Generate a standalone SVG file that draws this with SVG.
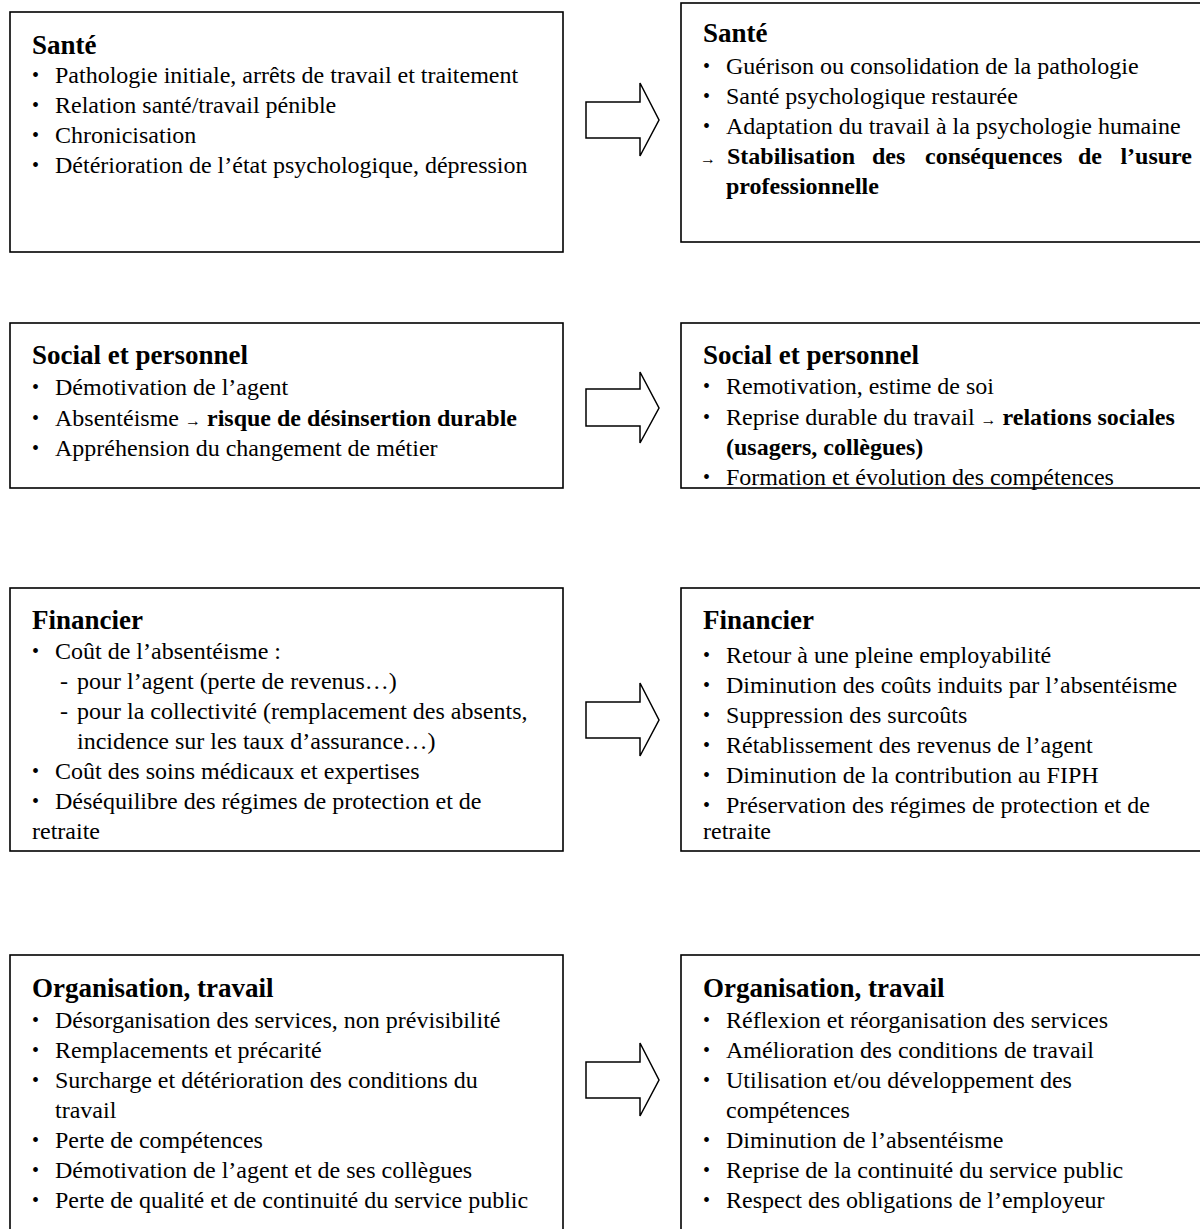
<svg xmlns="http://www.w3.org/2000/svg" width="1200" height="1229" viewBox="0 0 1200 1229">
<style>
.box{fill:#fff;stroke:#000;stroke-width:1.6}
.arr{fill:#fff;stroke:#000;stroke-width:1.5;stroke-linejoin:miter}
text{font-family:"Liberation Serif","Times New Roman",serif;fill:#000}
.h{font-size:27px;font-weight:bold}
.t{font-size:24px}
.b{font-weight:bold}
.bl{font-size:20px}
</style>
<rect width="1200" height="1229" fill="#fff"/>
<g id="connectors">
<path class="arr" d="M586,102 L640,102 L640,83 L659,120 L640,156 L640,138 L586,138 Z"/>
<path class="arr" d="M586,389 L640,389 L640,372 L659,408 L640,443 L640,426 L586,426 Z"/>
<path class="arr" d="M586,702 L640,702 L640,683 L659,720 L640,756 L640,738 L586,738 Z"/>
<path class="arr" d="M586,1062 L640,1062 L640,1043 L659,1080 L640,1116 L640,1098 L586,1098 Z"/>
</g>
<g id="sante-avant">
<rect class="box" x="10" y="12" width="553" height="240"/>
<text class="h" x="32" y="54">Santé</text>
<g class="t">
<text class="bl" x="32" y="82">•</text><text x="55" y="83">Pathologie initiale, arrêts de travail et traitement</text>
<text class="bl" x="32" y="112">•</text><text x="55" y="113">Relation santé/travail pénible</text>
<text class="bl" x="32" y="142">•</text><text x="55" y="143">Chronicisation</text>
<text class="bl" x="32" y="172">•</text><text x="55" y="173">Détérioration de l’état psychologique, dépression</text>
</g>
</g>
<g id="sante-apres">
<rect class="box" x="681" y="3" width="530" height="239"/>
<text class="h" x="703" y="42">Santé</text>
<g class="t">
<text class="bl" x="703" y="73">•</text><text x="726" y="74">Guérison ou consolidation de la pathologie</text>
<text class="bl" x="703" y="103">•</text><text x="726" y="104">Santé psychologique restaurée</text>
<text class="bl" x="703" y="133">•</text><text x="726" y="134">Adaptation du travail à la psychologie humaine</text>
<text font-size="16" x="700" y="164">→</text>
<text class="b" x="727" y="164">Stabilisation</text>
<text class="b" x="872" y="164">des</text>
<text class="b" x="925" y="164">conséquences</text>
<text class="b" x="1078" y="164">de</text>
<text class="b" x="1192" y="164" text-anchor="end">l’usure</text>
<text class="b" x="726" y="194">professionnelle</text>
</g>
</g>
<g id="social-avant">
<rect class="box" x="10" y="323" width="553" height="165"/>
<text class="h" x="32" y="364">Social et personnel</text>
<g class="t">
<text class="bl" x="32" y="394">•</text><text x="55" y="395">Démotivation de l’agent</text>
<text class="bl" x="32" y="425">•</text><text x="55" y="426">Absentéisme <tspan font-size="16">→</tspan> <tspan class="b">risque de désinsertion durable</tspan></text>
<text class="bl" x="32" y="455">•</text><text x="55" y="456">Appréhension du changement de métier</text>
</g>
</g>
<g id="social-apres">
<rect class="box" x="681" y="323" width="530" height="165"/>
<text class="h" x="703" y="364">Social et personnel</text>
<g class="t">
<text class="bl" x="703" y="393">•</text><text x="726" y="394">Remotivation, estime de soi</text>
<text class="bl" x="703" y="424">•</text><text x="726" y="425">Reprise durable du travail <tspan font-size="16">→</tspan> <tspan class="b">relations sociales</tspan></text>
<text class="b" x="726" y="455">(usagers, collègues)</text>
<text class="bl" x="703" y="484">•</text><text x="726" y="485">Formation et évolution des compétences</text>
</g>
</g>
<g id="financier-avant">
<rect class="box" x="10" y="588" width="553" height="263"/>
<text class="h" x="32" y="629">Financier</text>
<g class="t">
<text class="bl" x="32" y="658">•</text><text x="55" y="659">Coût de l’absentéisme :</text>
<text x="60" y="689">-</text><text x="77" y="689">pour l’agent (perte de revenus…)</text>
<text x="60" y="719">-</text><text x="77" y="719">pour la collectivité (remplacement des absents,</text>
<text x="77" y="749">incidence sur les taux d’assurance…)</text>
<text class="bl" x="32" y="778">•</text><text x="55" y="779">Coût des soins médicaux et expertises</text>
<text class="bl" x="32" y="808">•</text><text x="55" y="809">Déséquilibre des régimes de protection et de</text>
<text x="32" y="839">retraite</text>
</g>
</g>
<g id="financier-apres">
<rect class="box" x="681" y="588" width="530" height="263"/>
<text class="h" x="703" y="629">Financier</text>
<g class="t">
<text class="bl" x="703" y="662">•</text><text x="726" y="663">Retour à une pleine employabilité</text>
<text class="bl" x="703" y="692">•</text><text x="726" y="693">Diminution des coûts induits par l’absentéisme</text>
<text class="bl" x="703" y="722">•</text><text x="726" y="723">Suppression des surcoûts</text>
<text class="bl" x="703" y="752">•</text><text x="726" y="753">Rétablissement des revenus de l’agent</text>
<text class="bl" x="703" y="782">•</text><text x="726" y="783">Diminution de la contribution au FIPH</text>
<text class="bl" x="703" y="812">•</text><text x="726" y="813">Préservation des régimes de protection et de</text>
<text x="703" y="839">retraite</text>
</g>
</g>
<g id="organisation-avant">
<rect class="box" x="10" y="955" width="553" height="290"/>
<text class="h" x="32" y="997">Organisation, travail</text>
<g class="t">
<text class="bl" x="32" y="1027">•</text><text x="55" y="1028">Désorganisation des services, non prévisibilité</text>
<text class="bl" x="32" y="1057">•</text><text x="55" y="1058">Remplacements et précarité</text>
<text class="bl" x="32" y="1087">•</text><text x="55" y="1088">Surcharge et détérioration des conditions du</text>
<text x="55" y="1118">travail</text>
<text class="bl" x="32" y="1147">•</text><text x="55" y="1148">Perte de compétences</text>
<text class="bl" x="32" y="1177">•</text><text x="55" y="1178">Démotivation de l’agent et de ses collègues</text>
<text class="bl" x="32" y="1207">•</text><text x="55" y="1208">Perte de qualité et de continuité du service public</text>
</g>
</g>
<g id="organisation-apres">
<rect class="box" x="681" y="955" width="530" height="290"/>
<text class="h" x="703" y="997">Organisation, travail</text>
<g class="t">
<text class="bl" x="703" y="1027">•</text><text x="726" y="1028">Réflexion et réorganisation des services</text>
<text class="bl" x="703" y="1057">•</text><text x="726" y="1058">Amélioration des conditions de travail</text>
<text class="bl" x="703" y="1087">•</text><text x="726" y="1088">Utilisation et/ou développement des</text>
<text x="726" y="1118">compétences</text>
<text class="bl" x="703" y="1147">•</text><text x="726" y="1148">Diminution de l’absentéisme</text>
<text class="bl" x="703" y="1177">•</text><text x="726" y="1178">Reprise de la continuité du service public</text>
<text class="bl" x="703" y="1207">•</text><text x="726" y="1208">Respect des obligations de l’employeur</text>
</g>
</g>
</svg>
